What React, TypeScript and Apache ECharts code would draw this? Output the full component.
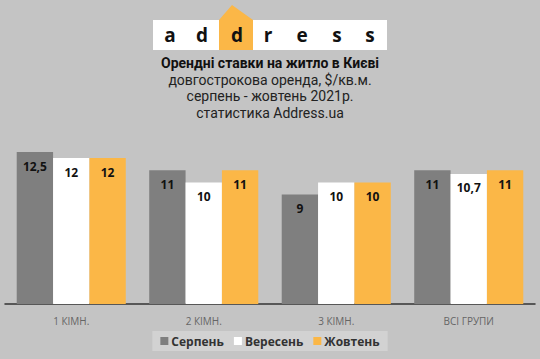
import React, { useEffect, useRef } from "react";
import * as echarts from "echarts";

const categories = ["1 КІМН.", "2 КІМН.", "3 КІМН.", "ВСІ ГРУПИ"];
const seriesNames = ["Серпень", "Вересень", "Жовтень"];
const august = [12.5, 11, 9, 11];
const september = [12, 10, 10, 10.7];
const october = [12, 11, 10, 11];
const seriesColors = ["#7f7f7f", "#ffffff", "#fbb747"];
const logoLetters = ["a", "d", "d", "r", "e", "s", "s"];
const titleLines = [
  "Орендні ставки на житло в Києві",
  "довгострокова оренда, $/кв.м.",
  "серпень - жовтень 2021р.",
  "статистика Address.ua",
];

export default function App() {
  const ref = useRef<HTMLDivElement>(null);
  useEffect(() => {
    document.body.style.margin = "0";
    if (!ref.current) return;
    const chart = echarts.init(ref.current, null, { renderer: "svg" });
    const fmt = (p: any) => String(p.value).replace(".", ",");
    const values = [august, september, october];
    const letterX = [170, 202, 237, 268, 302, 337, 370];
    const titleCenters = [63, 79.5, 96, 112.5];
    chart.setOption({
      animation: false,
      backgroundColor: "#c4c4c4",
      textStyle: { fontFamily: "Open Sans" },
      graphic: [
        { type: "rect", shape: { x: 153, y: 20, width: 234, height: 30 }, style: { fill: "#ffffff" } },
        { type: "polygon", shape: { points: [[219, 50], [219, 20], [232, 5], [253, 20], [253, 50]] }, style: { fill: "#fbb747" } },
        ...logoLetters.map((l, i) => ({
          type: "text",
          x: letterX[i],
          y: 35,
          style: {
            text: l,
            fontSize: 19,
            fontWeight: "bold",
            fontFamily: "Open Sans",
            fill: "#111",
            textAlign: "center",
            textVerticalAlign: "middle",
          },
        })),
        ...titleLines.map((t, i) => ({
          type: "text",
          x: 270,
          y: titleCenters[i],
          style: {
            text: t,
            fontSize: i === 0 ? 14 : 14,
            fontWeight: i === 0 ? "bold" : "normal",
            fill: i === 0 ? "#111" : "#222",
            fontFamily: "Roboto",
            textAlign: "center",
            textVerticalAlign: "middle",
          },
        })),
      ],
      legend: {
        data: seriesNames,
        bottom: 8,
        left: "center",
        backgroundColor: "#d2d2d2",
        padding: [4, 8, 4, 8],
        itemWidth: 8,
        itemHeight: 8,
        itemGap: 10,
        icon: "rect",
        textStyle: { fontSize: 12, fontWeight: "bold", color: "#333", fontFamily: "Open Sans", padding: [0, 0, 0, -2] },
      },
      grid: { left: 5, right: 5, top: 152, bottom: 55, containLabel: false },
      xAxis: {
        type: "category",
        data: categories,
        axisLine: { lineStyle: { color: "#333", width: 1.5 } },
        axisTick: { show: false },
        axisLabel: { color: "#666", fontSize: 10, margin: 12 },
      },
      yAxis: { type: "value", min: 0, max: 12.5, show: false, splitLine: { show: false } },
      series: seriesNames.map((name, i) => ({
        name,
        type: "bar",
        data: values[i],
        barGap: "0%",
        barCategoryGap: "17.7%",
        itemStyle: { color: seriesColors[i] },
        label: {
          show: true,
          position: "insideTop",
          distance: 8,
          formatter: fmt,
          color: "#111",
          fontWeight: "bold",
          fontSize: 12,
          fontFamily: "Open Sans",
        },
      })),
    });
    return () => chart.dispose();
  }, []);
  return <div ref={ref} style={{ width: 540, height: 359 }} />;
}
